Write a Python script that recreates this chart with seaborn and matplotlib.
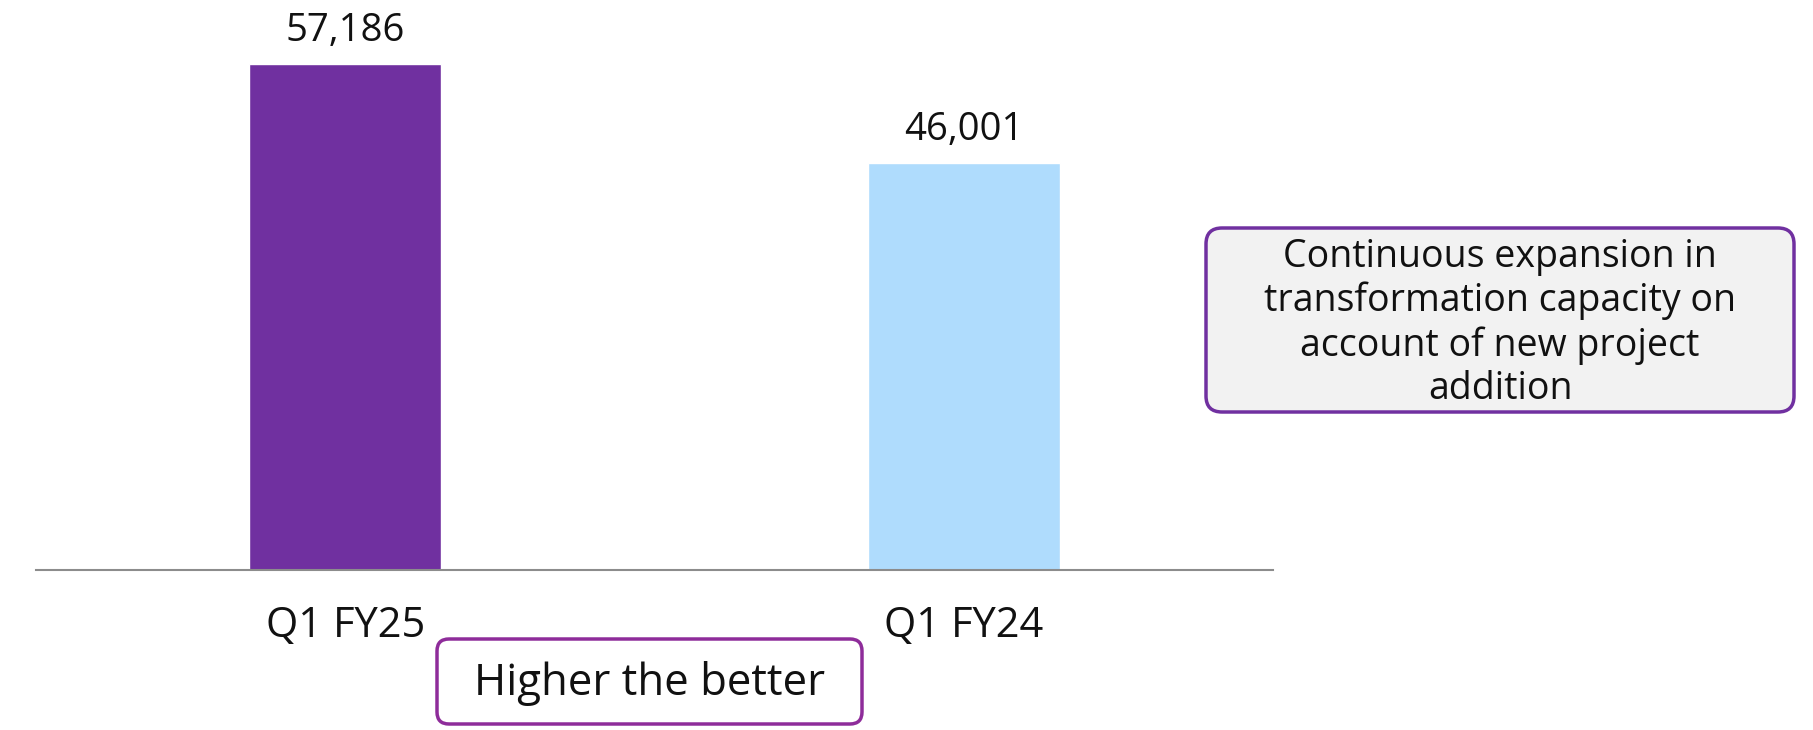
import numpy as np
import pandas as pd
import matplotlib.pyplot as plt
import seaborn as sns
from matplotlib.patches import FancyBboxPatch

# data
categories = ["Q1 FY25", "Q1 FY24"]
values = [57186, 46001]
bar_colors = ["#7030A0", "#AFDCFD"]
note_text = "Continuous expansion in\ntransformation capacity on\naccount of new project\naddition"
hint_text = "Higher the better"

sns.set_theme(style="white")
plt.rcParams["font.family"] = ["Open Sans", "DejaVu Sans"]

df = pd.DataFrame({"period": categories, "value": values})

fig = plt.figure(figsize=(18.13, 7.3), dpi=100)
ax = fig.add_axes([36 / 1813, 160 / 730, 1237 / 1813, 570 / 730])

sns.barplot(data=df, x="period", y="value", hue="period", palette=bar_colors,
            width=0.31, legend=False, saturation=1, ax=ax)

ax.set_xlim(-0.5, 1.5)
ax.set_ylim(0, max(values) * 570 / 506)

# value labels
for cont in ax.containers:
    ax.bar_label(cont, labels=[f"{v:,.0f}" for v in cont.datavalues],
                 padding=10, fontsize=27.5, color="#111111")

ax.set_xlabel("")
ax.set_ylabel("")
ax.set_yticks([])
ax.tick_params(axis="x", length=0, pad=25, labelsize=30, labelcolor="#111111")
for s in ["top", "right", "left"]:
    ax.spines[s].set_visible(False)
ax.spines["bottom"].set_color("#8C8C8C")
ax.spines["bottom"].set_linewidth(1.5)

# callout box on the right
box1 = FancyBboxPatch((12.06, 3.18), 5.88, 1.84,
                      boxstyle="round,pad=0,rounding_size=0.16",
                      transform=fig.dpi_scale_trans, facecolor="#F2F2F2",
                      edgecolor="#7030A0", linewidth=2.5)
fig.patches.append(box1)
fig.text(1500 / 1813, 1 - 323 / 730, note_text, ha="center", va="center",
         fontsize=27, color="#111111", linespacing=1.2)

# hint box at the bottom
box2 = FancyBboxPatch((4.37, 0.06), 4.25, 0.85,
                      boxstyle="round,pad=0,rounding_size=0.12",
                      transform=fig.dpi_scale_trans, facecolor="white",
                      edgecolor="#8E2C9A", linewidth=2.5)
fig.patches.append(box2)
fig.text(650 / 1813, 1 - 684 / 730, hint_text, ha="center", va="center",
         fontsize=31.5, color="#111111")

plt.savefig("out.png", dpi=100)
